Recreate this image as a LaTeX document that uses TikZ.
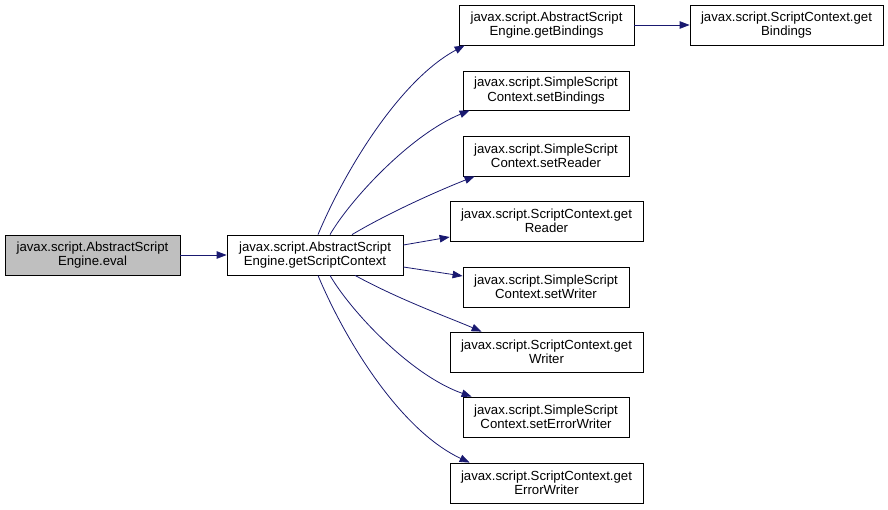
\documentclass[tikz,border=0pt]{standalone}
\usepackage{fontspec}
\setmainfont{Liberation Sans}
\usetikzlibrary{arrows.meta}
\definecolor{edgeblue}{HTML}{191970}
\definecolor{evalgray}{HTML}{BFBFBF}
\begin{document}
\begin{tikzpicture}[x=1pt,y=-1pt,
  fbox/.style={draw=black, line width=0.8pt, fill=white, inner sep=0pt, minimum height=40pt,
    align=center, font=\fontsize{13.2}{14.5}\selectfont},
  conn/.style={draw=edgeblue, line width=0.8pt, -{Triangle[length=10pt,width=7.5pt]}}]
\useasboundingbox (0,0) rectangle (888,509);
\node[fbox, fill=evalgray, minimum width=175pt] (eval) at (92.5,255) {javax.script.AbstractScript\\Engine.eval};
\node[fbox, minimum width=176pt] (gsc) at (315,255) {javax.script.AbstractScript\\Engine.getScriptContext};
\node[fbox, minimum width=175pt] (gb) at (546.5,25) {javax.script.AbstractScript\\Engine.getBindings};
\node[fbox, minimum width=193pt] (scgb) at (786.5,25) {javax.script.ScriptContext.get\\Bindings};
\node[fbox, minimum width=166pt, minimum height=39pt] (sb) at (546,90.5) {javax.script.SimpleScript\\Context.setBindings};
\node[fbox, minimum width=166pt] (sr) at (546,156) {javax.script.SimpleScript\\Context.setReader};
\node[fbox, minimum width=193pt] (gr) at (546.5,221) {javax.script.ScriptContext.get\\Reader};
\node[fbox, minimum width=166pt] (sw) at (546,287) {javax.script.SimpleScript\\Context.setWriter};
\node[fbox, minimum width=193pt] (gw) at (546.5,352) {javax.script.ScriptContext.get\\Writer};
\node[fbox, minimum width=166pt] (sew) at (546,417) {javax.script.SimpleScript\\Context.setErrorWriter};
\node[fbox, minimum width=193pt] (gew) at (546.5,483) {javax.script.ScriptContext.get\\ErrorWriter};

\draw[conn] (eval.east) -- (gsc.west);
\draw[conn] (gb.east) -- (scgb.west);
\draw[conn] ([xshift=3pt]gsc.north) .. controls (345,170) and (400,80) .. ([xshift=6pt]gb.south west);
\draw[conn] ([xshift=15pt]gsc.north) .. controls (350,200) and (410,135) .. ([xshift=7pt]sb.south west);
\draw[conn] ([xshift=37pt]gsc.north) .. controls (390,212) and (440,190) .. ([xshift=12pt]sr.south west);
\draw[conn] ([yshift=10pt]gsc.east) -- ([yshift=-16pt]gr.west);
\draw[conn] ([yshift=-12pt]gsc.east) -- ([yshift=11pt]sw.west);
\draw[conn] ([xshift=40pt]gsc.south) .. controls (400,300) and (450,318) .. ([xshift=32pt]gw.north west);
\draw[conn] ([xshift=15pt]gsc.south) .. controls (350,310) and (410,375) .. ([xshift=9pt]sew.north west);
\draw[conn] ([xshift=3pt]gsc.south) .. controls (345,340) and (400,430) .. ([xshift=20pt]gew.north west);
\end{tikzpicture}
\end{document}
